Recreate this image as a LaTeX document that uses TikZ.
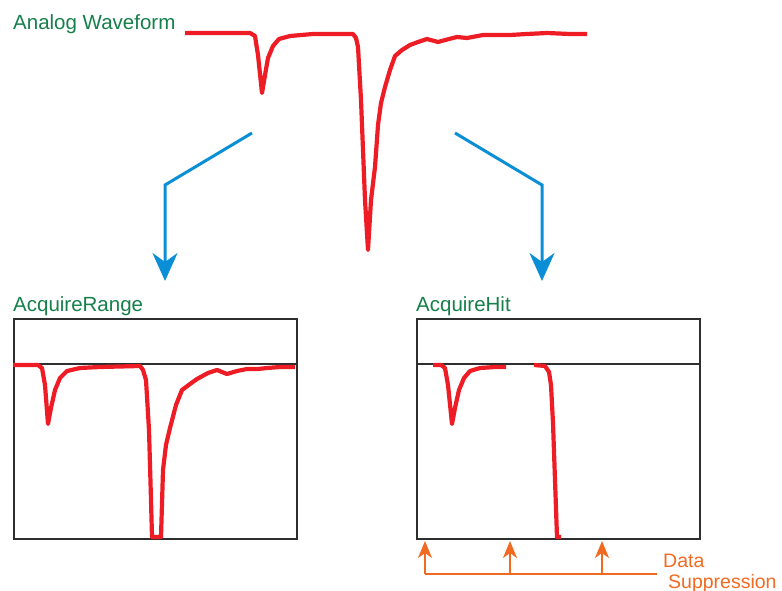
\documentclass[tikz,border=0pt]{standalone}
\usepackage{fontspec}
\setmainfont{Liberation Sans}
\usetikzlibrary{arrows.meta}
\definecolor{wred}{HTML}{EE1D25}
\definecolor{wblue}{HTML}{0A8FD6}
\definecolor{wgreen}{HTML}{15804A}
\definecolor{worange}{HTML}{F26A22}
\definecolor{wframe}{HTML}{2E2E2E}
\begin{document}
\begin{tikzpicture}[x=1pt,y=-1pt,
  wave/.style={draw=wred,line width=4.2pt,line join=round,line cap=butt},
  label/.style={text=wgreen,font=\fontsize{20.5}{24}\selectfont,anchor=base west,inner sep=0pt},
  olabel/.style={text=worange,font=\fontsize{19.5}{22}\selectfont,anchor=base west,inner sep=0pt},
  frame/.style={draw=wframe,line width=2pt,minimum width=283pt,minimum height=220pt,inner sep=0pt,anchor=north west},
  blue/.style={draw=wblue,line width=3pt,-{Stealth[length=28pt,width=25pt,inset=9pt]}},
  orng/.style={draw=worange,line width=2pt,-{Stealth[length=17pt,width=14pt,inset=5pt]}}]
\useasboundingbox (0,0) rectangle (782,591);

% labels
\node[label] (tA) at (13,30) {Analog Waveform};
\node[label] (tR) at (13,311) {AcquireRange};
\node[label] (tH) at (416,311) {AcquireHit};
\node[olabel] (tD) at (663,567) {Data};
\node[olabel] (tS) at (668,588) {Suppression};

% main waveform
\draw[wave] (185,33) -- (250,33) -- (255,36) -- (258,55) -- (262,93) -- (265,75) -- (268,58) -- (273,46) -- (279,39) -- (290,36) -- (313,34) -- (353,34)
  -- (356,38) -- (358,47) -- (361,100) -- (365,200) -- (368,250) -- (371,200) -- (375,167) -- (378,125) -- (381,103) -- (385,87) -- (390,70) -- (395,56)
  -- (402,50) -- (410,45) -- (418,42) -- (427,39) -- (438,42) -- (449,39) -- (457,37) -- (467,38) -- (483,35) -- (510,35) -- (527,34) -- (547,33) -- (570,34) -- (587,34);

% frames
\node[frame] (bR) at (13,318) {};
\node[frame] (bH) at (416,318) {};
\draw[wframe,line width=1.4pt] (bR.west |- 0,364) -- (bR.east |- 0,364);
\draw[wframe,line width=1.4pt] (bH.west |- 0,364) -- (bH.east |- 0,364);

% AcquireRange waveform
\draw[wave] (13,365) -- (38,365) -- (42,368) -- (45,385) -- (48,424) -- (51,408) -- (55,390) -- (60,378) -- (67,371) -- (80,368) -- (100,367) -- (140,366)
  -- (143,370) -- (146,380) -- (149,430) -- (151,500) -- (152,537) -- (161,537) -- (163,470) -- (166,445) -- (170,428) -- (176,405) -- (182,390)
  -- (190,384) -- (197,379) -- (208,373) -- (217,370) -- (227,374) -- (237,371) -- (247,369) -- (258,369) -- (267,368) -- (280,367) -- (295,367);

% AcquireHit waveform
\draw[wave] (433,365) -- (441,365) -- (445,368) -- (448,385) -- (452,424) -- (455,408) -- (459,390) -- (464,378) -- (470,371) -- (480,368) -- (495,367) -- (506,367);
\draw[wave] (534,365) -- (545,366) -- (549,372) -- (551,385) -- (553,423) -- (557,537) -- (561,537);

% blue arrows
\coordinate (lS) at (252,133);
\coordinate (lK) at (165,185);
\coordinate (rS) at (455,133);
\coordinate (rK) at (542,185);
\draw[blue] (lS) -- (lK) -- (lK |- 0,281);
\draw[blue] (rS) -- (rK) -- (rK |- 0,281);

% orange arrows
\coordinate (o1) at (425,574);
\coordinate (o2) at (510,574);
\coordinate (o3) at (602,574);
\coordinate (oE) at (657,574);
\draw[worange,line width=2pt] (o1) -- (oE);
\draw[orng] (o1) -- (o1 |- 0,541);
\draw[orng] (o2) -- (o2 |- 0,541);
\draw[orng] (o3) -- (o3 |- 0,541);
\end{tikzpicture}
\end{document}
